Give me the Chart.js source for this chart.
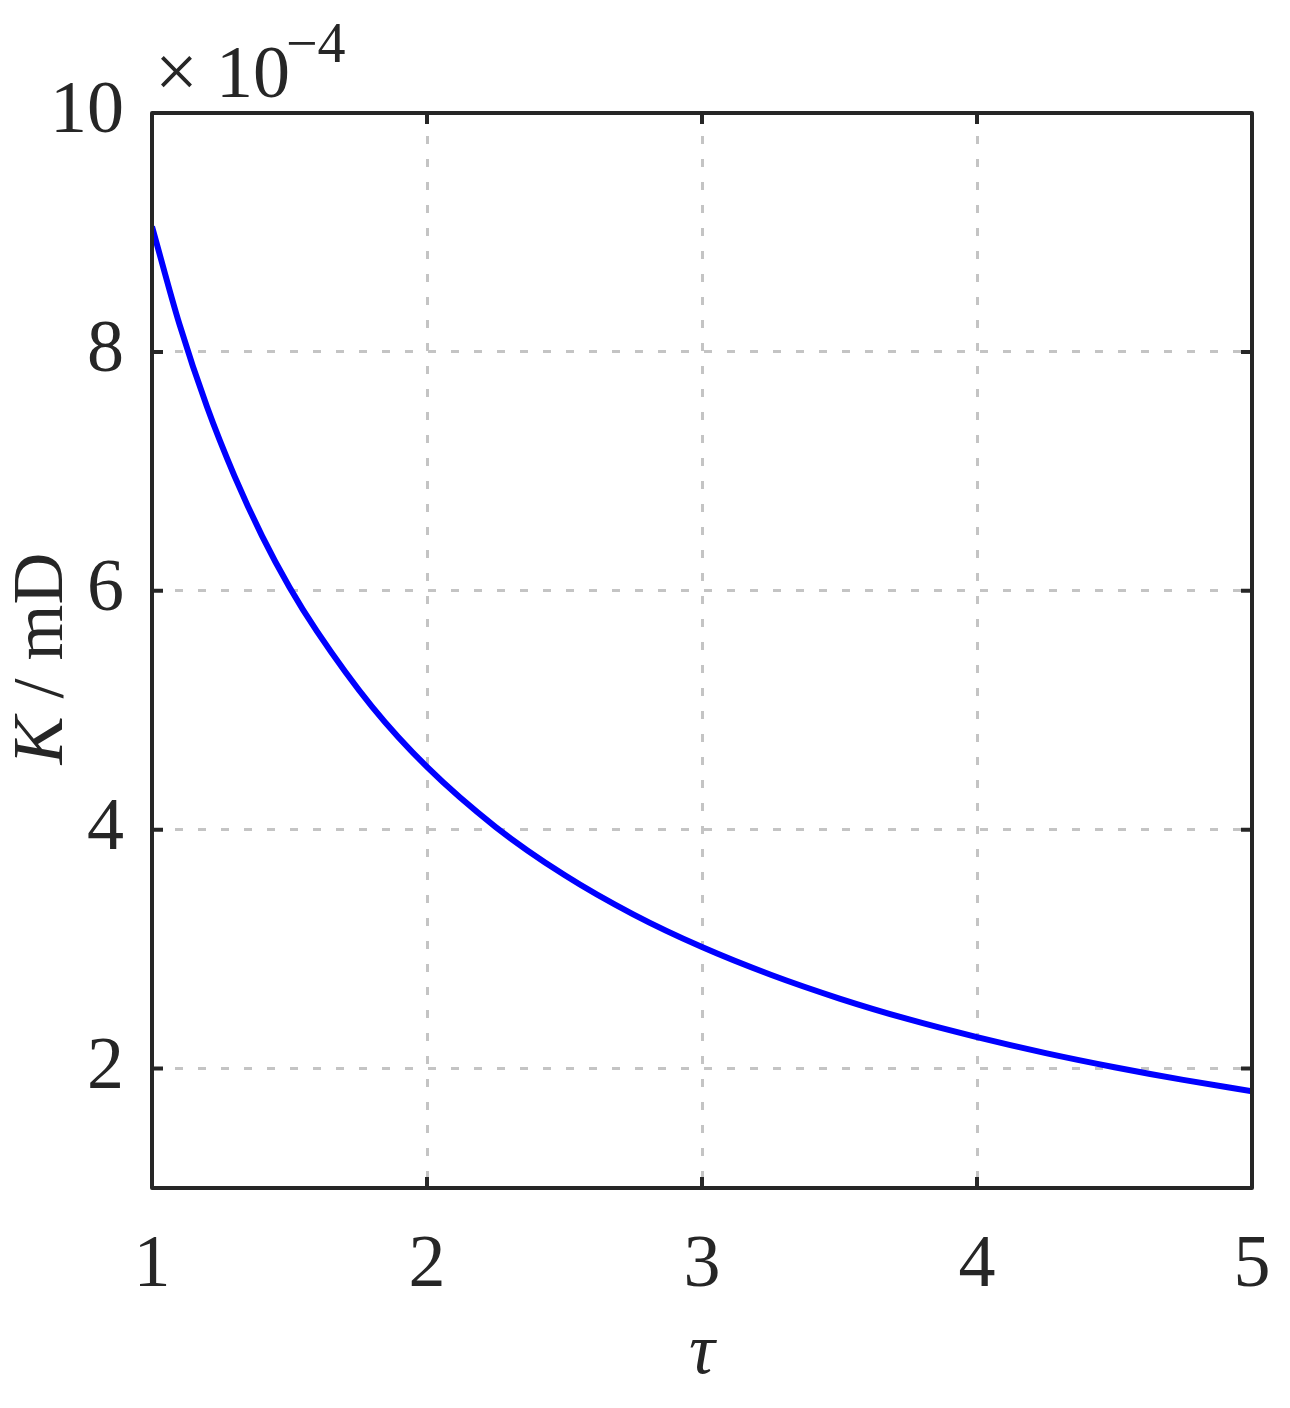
<!DOCTYPE html>
<html>
<head>
<meta charset="utf-8">
<script src="https://cdn.jsdelivr.net/npm/chart.js@4/dist/chart.umd.min.js"></script>
<style>
html,body{margin:0;padding:0;background:#fff;}
#wrap{width:1290px;height:1408px;position:relative;}
</style>
</head>
<body>
<div id="wrap"><canvas id="c" width="1290" height="1408"></canvas></div>
<script>
// Data (K in units of 1e-4 mD)
const tau = [1.00,1.10,1.20,1.30,1.40,1.50,1.60,1.80,2.00,2.25,2.50,2.75,3.00,3.25,3.50,3.75,4.00,4.25,4.50,4.75,5.00];
const kValues = [9.05,8.23,7.54,6.96,6.46,6.03,5.66,5.03,4.525,4.022,3.62,3.291,3.017,2.785,2.586,2.413,2.263,2.129,2.011,1.905,1.81];
const xTicks = [1,2,3,4,5];
const yTicks = [2,4,6,8,10];
const xLabel = 'τ';
const yLabelItalic = 'K';
const yLabelRest = ' / mD';
const expTimes = '×';
const expBase = '10';
const expPower = '−4';

const FONT = "'Liberation Serif', 'Times New Roman', Tinos, Times, serif";
const AXIS = '#262626';

const framePlugin = {
  id: 'frame',
  afterDraw(chart) {
    const ctx = chart.ctx;
    const a = chart.chartArea;
    const xs = chart.scales.x, ys = chart.scales.y;
    ctx.save();
    ctx.strokeStyle = AXIS;
    ctx.lineWidth = 4;
    ctx.lineJoin = 'round';
    ctx.strokeRect(a.left, a.top, a.right - a.left, a.bottom - a.top);
    const tl = 11;
    ctx.beginPath();
    xTicks.forEach(v => {
      const px = xs.getPixelForValue(v);
      ctx.moveTo(px, a.bottom); ctx.lineTo(px, a.bottom - tl);
      ctx.moveTo(px, a.top); ctx.lineTo(px, a.top + tl);
    });
    yTicks.forEach(v => {
      const py = ys.getPixelForValue(v);
      ctx.moveTo(a.left, py); ctx.lineTo(a.left + tl, py);
      ctx.moveTo(a.right, py); ctx.lineTo(a.right - tl, py);
    });
    ctx.stroke();

    // exponent label
    ctx.fillStyle = AXIS;
    ctx.textBaseline = 'alphabetic';
    ctx.textAlign = 'left';
    ctx.font = '76px ' + FONT;
    ctx.fillText(expTimes, a.left + 3, 97);
    ctx.font = '74px ' + FONT;
    ctx.fillText(expBase, a.left + 64, 97);
    ctx.font = '56px ' + FONT;
    ctx.fillText(expPower, a.left + 134, 62);

    // y axis title (rotated)
    ctx.translate(62, (a.top + a.bottom) / 2 + 8);
    ctx.rotate(-Math.PI / 2);
    ctx.font = 'italic 72px ' + FONT;
    const w1 = ctx.measureText(yLabelItalic).width;
    ctx.font = '72px ' + FONT;
    const w2 = ctx.measureText(yLabelRest).width;
    const start = -(w1 + w2) / 2;
    ctx.font = 'italic 72px ' + FONT;
    ctx.fillText(yLabelItalic, start, 0);
    ctx.font = '72px ' + FONT;
    ctx.fillText(yLabelRest, start + w1, 0);
    ctx.restore();
  }
};

new Chart(document.getElementById('c'), {
  type: 'line',
  data: {
    datasets: [{
      data: tau.map((t, i) => ({x: t, y: kValues[i]})),
      borderColor: '#0000ff',
      borderWidth: 6,
      pointRadius: 0,
      fill: false,
      cubicInterpolationMode: 'monotone'
    }]
  },
  options: {
    responsive: false,
    animation: false,
    devicePixelRatio: 1,
    layout: {padding: {left: 0, right: 38, top: 113, bottom: 0}},
    plugins: {legend: {display: false}, tooltip: {enabled: false}},
    scales: {
      x: {
        type: 'linear', min: 1, max: 5,
        afterFit(s) { s.height = 220; s.paddingLeft = 0; s.paddingRight = 0; },
        afterBuildTicks(s) { s.ticks = xTicks.map(v => ({value: v})); },
        grid: {color: '#c4c4c4', lineWidth: 3, drawTicks: false},
        border: {display: false, dash: [8, 15]},
        ticks: {color: AXIS, font: {family: FONT, size: 74}, padding: 34, maxRotation: 0,
                callback: v => String(v)},
        title: {display: true, text: xLabel, color: AXIS,
                font: {family: FONT, size: 72, style: 'italic'}, padding: {top: 0, bottom: 11}}
      },
      y: {
        type: 'linear', min: 1, max: 10,
        afterFit(s) { s.width = 152; s.paddingTop = 0; s.paddingBottom = 0; },
        afterBuildTicks(s) { s.ticks = yTicks.map(v => ({value: v})); },
        grid: {color: '#c4c4c4', lineWidth: 3, drawTicks: false},
        border: {display: false, dash: [8, 15]},
        ticks: {color: AXIS, font: {family: FONT, size: 74}, padding: 28,
                callback: v => String(v)}
      }
    }
  },
  plugins: [framePlugin]
});
</script>
</body>
</html>
